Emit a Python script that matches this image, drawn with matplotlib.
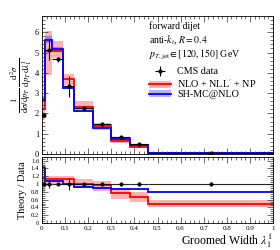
import numpy as np
import matplotlib
matplotlib.use("Agg")
import matplotlib.pyplot as plt
from matplotlib.ticker import MultipleLocator, NullFormatter
from matplotlib.patches import Patch

plt.rcParams['font.family'] = ['Liberation Serif', 'DejaVu Serif']
plt.rcParams['mathtext.fontset'] = 'stix'

# bin edges of groomed width
edges = [0.0, 0.015, 0.045, 0.09, 0.14, 0.22, 0.30, 0.38, 0.46, 1.0]

# CMS data
data = [1.92, 5.12, 4.66, 3.33, 2.29, 1.47, 0.85, 0.49, 0.07]
data_err = [0.1, 0.5, 0.12, 0.5, 0.05, 0.08, 0.05, 0.03, 0.005]

# NLO + NLL' + NP
red = [2.22, 5.1, 5.1, 3.7, 2.32, 1.38, 0.62, 0.35, 0.035]
red_lo = [1.7, 3.9, 4.75, 3.4, 2.1, 1.2, 0.52, 0.28, 0.028]
red_hi = [2.85, 6.05, 5.55, 3.95, 2.6, 1.55, 0.75, 0.45, 0.045]

# SH-MC@NLO
blue = [2.67, 5.6, 5.15, 3.27, 2.1, 1.3, 0.72, 0.42, 0.056]
blue_lo = [2.6, 5.45, 5.05, 3.2, 2.05, 1.27, 0.7, 0.41, 0.054]
blue_hi = [2.75, 5.8, 5.25, 3.34, 2.15, 1.33, 0.74, 0.43, 0.058]

# ratio panel (theory / data)
r_data_err = [0.05, 0.1, 0.03, 0.15, 0.03, 0.04, 0.04, 0.05, 0.05]
r_red = [1.15, 1.12, 1.12, 1.12, 1.01, 0.97, 0.78, 0.68, 0.49]
r_red_lo = [0.8, 0.95, 1.0, 1.02, 0.9, 0.83, 0.62, 0.55, 0.4]
r_red_hi = [1.5, 1.2, 1.2, 1.2, 1.13, 1.08, 0.9, 0.8, 0.6]
r_blue = [1.4, 1.09, 1.09, 1.0, 0.93, 0.9, 0.88, 0.88, 0.8]

edges = np.array(edges)
centers = 0.5 * (edges[1:] + edges[:-1])
halfw = 0.5 * (edges[1:] - edges[:-1])

fig = plt.figure(figsize=(2.8, 2.5), dpi=100)
ax = fig.add_axes([0.15, 0.384, 0.825, 0.552])
rx = fig.add_axes([0.15, 0.108, 0.825, 0.265])

# main panel
ax.stairs(red_hi, edges, baseline=red_lo, fill=True, color='#ff0000', alpha=0.3, lw=0)
ax.stairs(blue_hi, edges, baseline=blue_lo, fill=True, color='#0000ff', alpha=0.3, lw=0)
ax.stairs(red, edges, color='#ff0000', lw=1.3, baseline=None)
ax.stairs(blue, edges, color='#0000ff', lw=1.3, baseline=None)
ax.errorbar(centers, data, yerr=data_err, xerr=halfw, fmt='o', color='black',
            ms=2, lw=0.8, capsize=0)

# legend
h1, = ax.plot([], [], color='#ff0000', lw=1.3)
h2, = ax.plot([], [], color='#0000ff', lw=1.3)
hr = (Patch(color='#ff0000', alpha=0.3, lw=0), h1)
hb = (Patch(color='#0000ff', alpha=0.3, lw=0), h2)
hd = ax.errorbar([], [], yerr=[], xerr=[], fmt='o', color='black', ms=2, lw=0.8)
ax.legend([hd, hr, hb], ['CMS data', r"NLO + NLL$'$ + NP", 'SH-MC@NLO'],
          loc='upper left', bbox_to_anchor=(0.44, 0.665), frameon=False,
          fontsize=7.3, handlelength=2.2, handletextpad=0.6, labelspacing=0.05,
          borderpad=0)

ax.text(0.465, 0.965, 'forward dijet', transform=ax.transAxes, fontsize=7, va='top')
ax.text(0.465, 0.875, r'anti-$k_t$, $R = 0.4$', transform=ax.transAxes, fontsize=7, va='top')
ax.text(0.465, 0.77, r'$p_{T,\mathrm{jet}} \in [120, 150]$ GeV', transform=ax.transAxes,
        fontsize=7, va='top')

ax.set_xlim(0, 1)
ax.set_ylim(0, 6.8)
ax.yaxis.set_major_locator(MultipleLocator(1))
ax.yaxis.set_minor_locator(MultipleLocator(0.2))
ax.xaxis.set_major_locator(MultipleLocator(0.1))
ax.xaxis.set_minor_locator(MultipleLocator(0.02))
ax.xaxis.set_major_formatter(NullFormatter())
ax.set_ylabel(r'$\frac{1}{\mathrm{d}\sigma/\mathrm{d}p_T}\,\frac{\mathrm{d}^2\sigma}{\mathrm{d}p_T\,\mathrm{d}\lambda_1^1}$',
              fontsize=9, labelpad=1)

# ratio panel
rx.stairs(r_red_hi, edges, baseline=r_red_lo, fill=True, color='#ff0000', alpha=0.3, lw=0)
rx.stairs(r_red, edges, color='#ff0000', lw=1.3, baseline=None)
rx.stairs(r_blue, edges, color='#0000ff', lw=1.3, baseline=None)
rx.errorbar(centers, np.ones(len(centers)), yerr=r_data_err, xerr=halfw, fmt='o',
            color='black', ms=2, lw=0.8, capsize=0, alpha=0.85)

rx.set_xlim(0, 1)
rx.set_ylim(0, 1.7)
rx.yaxis.set_minor_locator(MultipleLocator(0.05))
rx.xaxis.set_minor_locator(MultipleLocator(0.02))
rx.set_yticks([0, 0.2, 0.4, 0.6, 0.8, 1, 1.2, 1.4, 1.6])
rx.set_yticklabels(['0', '0.2', '0.4', '0.6', '0.8', '1', '1.2', '1.4', '1.6'])
rx.set_xticks([0, 0.1, 0.2, 0.3, 0.4, 0.5, 0.6, 0.7, 0.8, 0.9, 1])
rx.set_xticklabels(['0', '0.1', '0.2', '0.3', '0.4', '0.5', '0.6', '0.7', '0.8', '0.9', '1'])
rx.set_ylabel('Theory / Data', fontsize=7.5, labelpad=3)
rx.set_xlabel(r'Groomed Width $\lambda_1^1$', fontsize=8.5, loc='right', labelpad=1)

for a, fs in ((ax, 6), (rx, 4.8)):
    a.tick_params(which='both', direction='in', top=True, right=True, labelsize=fs,
                  width=0.5, colors='#333333', labelcolor='black', pad=2)
    a.tick_params(which='major', length=4)
    a.tick_params(which='minor', length=2)
    for s in a.spines.values():
        s.set_linewidth(0.6)
rx.tick_params(axis='x', labelsize=5)

fig.savefig('out.png', dpi=100)
